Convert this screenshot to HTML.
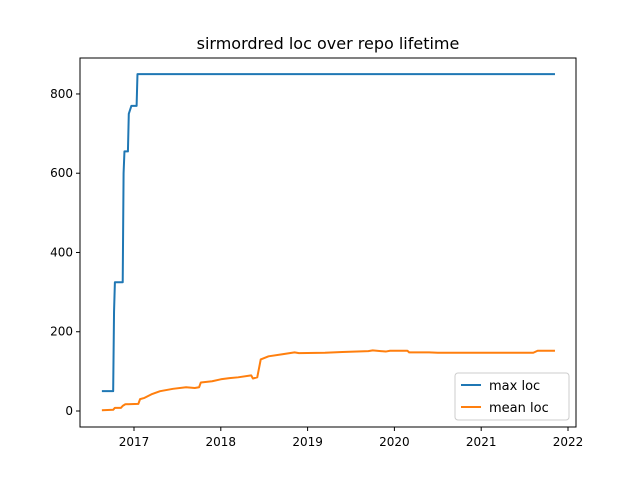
<!DOCTYPE html>
<html><head><meta charset="utf-8"><style>
body{margin:0;background:#fff;font-family:"Liberation Sans","DejaVu Sans",sans-serif}
svg text{font-family:"DejaVu Sans","Liberation Sans",sans-serif}
</style></head><body>
<svg id="chart" width="640" height="480">
<rect x="0" y="0" width="640" height="480" fill="#fff"/>
<text x="328" y="49" font-size="16" text-anchor="middle">sirmordred loc over repo lifetime</text>
<g id="plot"></g>
<rect x="80" y="58" width="496" height="369" fill="none" stroke="#000" stroke-width="1"/>
<g>
<rect x="455" y="373" width="114" height="47" rx="3" fill="#fff" stroke="#ccc"/>
<line x1="461" y1="385" x2="481" y2="385" stroke="#1f77b4" stroke-width="2"/>
<text x="489" y="390" font-size="13">max loc</text>
<line x1="461" y1="407" x2="481" y2="407" stroke="#ff7f0e" stroke-width="2"/>
<text x="489" y="412" font-size="13">mean loc</text>
</g>
</svg>
<script>
const maxYears=[2016.63,2016.76,2016.77,2016.78,2016.87,2016.88,2016.89,2016.93,2016.94,2016.97,2017.03,2017.04,2021.85];
const maxVals=[50,50,250,325,325,600,655,655,750,770,770,850,850];
const meanYears=[2016.63,2016.76,2016.78,2016.85,2016.87,2016.9,2017.05,2017.07,2017.12,2017.2,2017.3,2017.45,2017.6,2017.7,2017.75,2017.77,2017.9,2018.0,2018.1,2018.2,2018.35,2018.37,2018.42,2018.46,2018.55,2018.7,2018.85,2018.9,2019.2,2019.4,2019.7,2019.75,2019.9,2019.95,2020.15,2020.17,2020.4,2020.5,2021.6,2021.65,2021.85];
const meanVals=[2,3,8,8,13,17,18,30,33,42,50,56,60,58,60,72,75,80,83,85,90,82,85,130,138,143,148,146,147,149,151,153,150,152,152,148,148,147,147,152,152];
const xTicks=[2017,2018,2019,2020,2021,2022];
const yTicks=[0,200,400,600,800];
const NS="http://www.w3.org/2000/svg";
const xs=v=>134+(v-2017)*86.8;
const ys=v=>411-v*0.3963;
const g=document.getElementById('plot');
function mk(t,a){const e=document.createElementNS(NS,t);for(const k in a)e.setAttribute(k,a[k]);g.appendChild(e);return e;}
xTicks.forEach(t=>{
 const l=mk('line',{x1:xs(t),x2:xs(t),y1:427,y2:431,stroke:'#000'});
 
 
 const tx=mk('text',{x:xs(t),y:446,'font-size':12,'text-anchor':'middle'});tx.textContent=t;
 
 
});
yTicks.forEach(t=>{
 const l=mk('line',{x1:76,x2:80,y1:ys(t),y2:ys(t),stroke:'#000'});
 
 
 const tx=mk('text',{x:73,y:ys(t)+4,'font-size':12,'text-anchor':'end'});tx.textContent=t;
 
 
});
function line(X,Y,c,name){
 const p=mk('polyline',{points:X.map((x,i)=>xs(x)+','+ys(Y[i])).join(' '),fill:'none',stroke:c,'stroke-width':2,'stroke-linejoin':'round'});
 
 
}
line(maxYears,maxVals,'#1f77b4','max-loc-line');
line(meanYears,meanVals,'#ff7f0e','mean-loc-line');
</script>
</body></html>
